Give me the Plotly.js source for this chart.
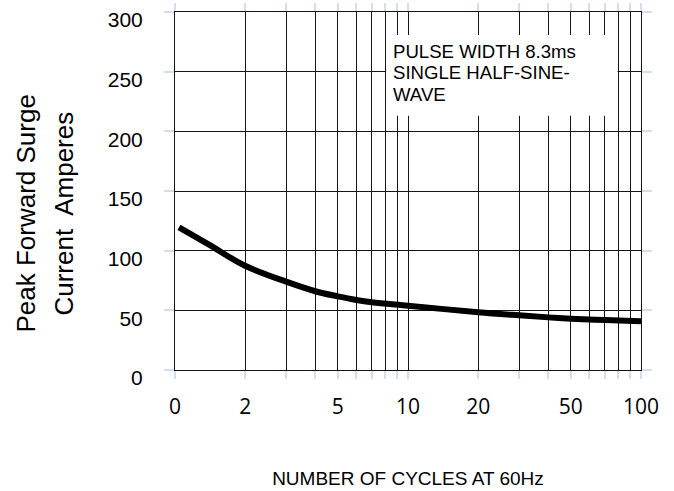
<!DOCTYPE html>
<html>
<head>
<meta charset="utf-8">
<script src="https://cdn.plot.ly/plotly-3.0.1.min.js"></script>
<style>html,body{margin:0;padding:0;background:#fff;}#chart{width:674px;height:491px;}</style>
</head>
<body>
<div id="chart"></div>
<script>
// Data
const cycles = [1.04, 1.4, 2, 3, 4, 5, 6, 7, 10, 20, 30, 40, 50, 70, 100];
const surgeAmps = [119.5, 105, 87.3, 74.0, 66.0, 61.7, 58.7, 56.8, 53.9, 48.4, 45.8, 44.1, 43, 41.8, 40.8];

const xTickVals = [1, 2, 3, 4, 5, 6, 7, 8, 9, 10, 20, 30, 40, 50, 60, 70, 80, 90, 100];
const xTickText = ['0', '2', '', '', '5', '', '', '', '', '10', '20', '', '', '50', '', '', '', '', '100'];
const yTickVals = [0, 50, 100, 150, 200, 250, 300];
const yTickText = ['0', '50', '100', '150', '200', '250', '300'];

const noteLines = ['PULSE WIDTH 8.3ms', 'SINGLE HALF-SINE-', 'WAVE'];
const yTitleLines = ['Peak Forward Surge', 'Current\u00A0 Amperes'];
const xTitle = 'NUMBER OF CYCLES AT 60Hz';

const gridCol = '#141414';
const tickCol = '#d6ddef';
const arial = 'Liberation Sans, Arial, sans-serif';

const trace = {
  x: cycles, y: surgeAmps, type: 'scatter', mode: 'lines',
  line: {color: '#000', width: 6, shape: 'spline', smoothing: 1},
  hoverinfo: 'skip'
};

const noteY = [0.8897, 0.8316, 0.7709];
const annotations = noteLines.map((t, i) => ({
  text: t, xref: 'paper', yref: 'paper', x: 0.4635, y: noteY[i],
  xanchor: 'left', yanchor: 'middle', showarrow: false,
  font: {family: arial, size: 18.6, color: '#000'}
}));
annotations.push({
  text: yTitleLines[0], xref: 'paper', yref: 'paper', x: -0.3197, y: 0.437,
  xanchor: 'center', yanchor: 'middle', showarrow: false, textangle: -90,
  font: {family: arial, size: 26, color: '#000'}
});
annotations.push({
  text: yTitleLines[1], xref: 'paper', yref: 'paper', x: -0.2403, y: 0.4371,
  xanchor: 'center', yanchor: 'middle', showarrow: false, textangle: -90,
  font: {family: arial, size: 26, color: '#000'}
});

const layout = {
  width: 674, height: 491,
  margin: {l: 175, r: 33, t: 12, b: 121, pad: 0},
  paper_bgcolor: '#fff', plot_bgcolor: '#fff',
  showlegend: false,
  xaxis: {
    type: 'log', range: [0, 2],
    tickmode: 'array', tickvals: xTickVals, ticktext: xTickText,
    showgrid: true, gridcolor: gridCol, gridwidth: 1,
    zeroline: false, showline: true, linecolor: gridCol, linewidth: 1,
    ticks: 'outside', ticklen: 8, tickwidth: 2, tickcolor: tickCol, mirror: 'ticks',
    ticklabelstandoff: 10,
    tickfont: {family: 'Open Sans, sans-serif', size: 21, color: '#000'},
    title: {text: xTitle, standoff: 52, font: {family: arial, size: 19, color: '#000'}},
    fixedrange: true
  },
  yaxis: {
    range: [0, 300],
    tickmode: 'array', tickvals: yTickVals, ticktext: yTickText,
    showgrid: true, gridcolor: gridCol, gridwidth: 1,
    zeroline: false, showline: true, linecolor: gridCol, linewidth: 1,
    ticks: 'outside', ticklen: 10, tickwidth: 2, tickcolor: tickCol, mirror: 'ticks',
    ticklabelstandoff: 17, ticklabelshift: 8,
    tickfont: {family: arial, size: 21, color: '#000'},
    fixedrange: true
  },
  shapes: [{
    type: 'rect', xref: 'paper', yref: 'paper',
    x0: 0.453, x1: 0.9496, y0: 0.7103, y1: 0.9358,
    fillcolor: '#fff', line: {width: 0}, layer: 'above'
  }],
  annotations: annotations
};

Plotly.newPlot('chart', [trace], layout, {displayModeBar: false, staticPlot: true});
</script>
</body>
</html>
